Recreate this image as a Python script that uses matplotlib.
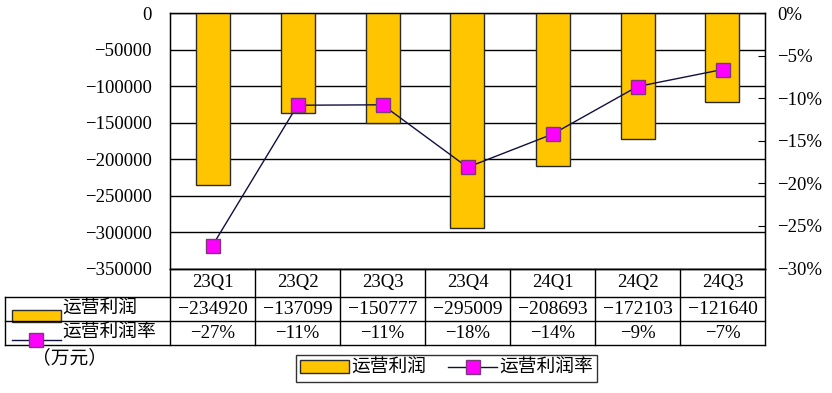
import matplotlib.pyplot as plt
from matplotlib.patches import Rectangle
from matplotlib.ticker import FuncFormatter

plt.rcParams['font.family'] = ['Liberation Serif', 'Noto Sans CJK SC']
plt.rcParams['axes.unicode_minus'] = True

# 数据
quarters = ['23Q1', '23Q2', '23Q3', '23Q4', '24Q1', '24Q2', '24Q3']
profit = [-234920, -137099, -150777, -295009, -208693, -172103, -121640]
rate = [-27.3, -10.8, -10.75, -18.1, -14.2, -8.6, -6.6]
bar_name = '运营利润'
line_name = '运营利润率'

W, H = 832, 393
fig = plt.figure(figsize=(W / 100, H / 100), dpi=100)

# 图表区 (像素坐标换算)
x0, x1, y0, y1 = 170, 765, 13.4, 268.5
ax = fig.add_axes([x0 / W, 1 - y1 / H, (x1 - x0) / W, (y1 - y0) / H])
x = list(range(len(quarters)))
bars = ax.bar(x, profit, width=0.4, color='#FFC600', edgecolor='#2b2b2b',
              linewidth=1, zorder=3)
ax.set_xlim(-0.5, len(quarters) - 0.5)
ax.set_ylim(-350000, 0)
ax.set_yticks(range(-350000, 1, 50000))
ax.yaxis.set_major_formatter(FuncFormatter(lambda v, p: f'{int(v)}'.replace('-', '\u2212')))
ax.set_xticks([])
ax.tick_params(axis='y', length=0, labelsize=13.5, pad=13)
ax.grid(axis='y', color='black', linewidth=1, zorder=0)
for s in ax.spines.values():
    s.set_linewidth(1)

ax2 = ax.twinx()
ln, = ax2.plot(x, rate, color='#101040', linewidth=1, marker='s', markersize=10.5,
               markerfacecolor='#FF00FF', markeredgecolor='#7a3a7a', zorder=5)
ax2.set_ylim(-30, 0)
ax2.set_yticks(range(-30, 1, 5))
ax2.yaxis.set_major_formatter(FuncFormatter(lambda v, p: f'{int(v)}%'.replace('-', '\u2212')))
ax2.tick_params(axis='y', direction='in', length=5, labelsize=13.5, pad=9)
ax2.set_xlim(-0.5, len(quarters) - 0.5)

# 数据表
tb = fig.add_axes([0, 0, 1, 1])
tb.set_xlim(0, W)
tb.set_ylim(H, 0)
tb.axis('off')
tb.patch.set_alpha(0)
r0, r1, r2, r3 = y1, 297, 321, 345
lx = 5
cw = (x1 - x0) / len(quarters)
kw = dict(color='black', linewidth=1)
tb.plot([x0, x0], [r0, r3], **kw)
tb.plot([x1, x1], [r0, r3], **kw)
tb.plot([lx, lx], [r1, r3], **kw)
tb.plot([x0, x1], [r0, r0], **kw)
for yy in (r1, r2, r3):
    tb.plot([lx, x1], [yy, yy], **kw)
for i in range(1, len(quarters)):
    tb.plot([x0 + i * cw] * 2, [r0, r3], **kw)

fs = 13.5
for i, q in enumerate(quarters):
    cx = x0 + (i + 0.5) * cw
    tb.text(cx, (r0 + r1) / 2, q, ha='center', va='center', fontsize=fs)
    tb.text(cx, (r1 + r2) / 2, f'{profit[i]}'.replace('-', '\u2212'),
            ha='center', va='center', fontsize=14)
    tb.text(cx, (r2 + r3) / 2, f'{round(rate[i])}%'.replace('-', '\u2212'),
            ha='center', va='center', fontsize=fs)

# 表内图例
tb.add_patch(Rectangle((12, 310), 49, 12, facecolor='#FFC600', edgecolor='#2b2b2b', lw=1))
tb.text(62, (r1 + r2) / 2, bar_name, ha='left', va='center', fontsize=fs)
tb.plot([12, 61], [340, 340], color='#101040', linewidth=1)
tb.plot([36], [340], marker='s', markersize=10, markerfacecolor='#FF00FF',
        markeredgecolor='#7a3a7a')
tb.text(62, (r2 + r3) / 2, line_name, ha='left', va='center', fontsize=fs)

tb.text(32, 358, '（万元）', ha='left', va='center', fontsize=fs)

# 底部图例
leg = fig.legend([bars, ln], [bar_name, line_name], loc='center',
                 bbox_to_anchor=(446.5 / W, 1 - 368.5 / H), ncol=2,
                 fontsize=fs, frameon=True, fancybox=False, edgecolor='black',
                 handlelength=2.6, handletextpad=0.1, columnspacing=1.2,
                 borderpad=0.25, borderaxespad=0)
leg.get_frame().set_linewidth(1)

fig.savefig('out.png', dpi=100, facecolor='white')
